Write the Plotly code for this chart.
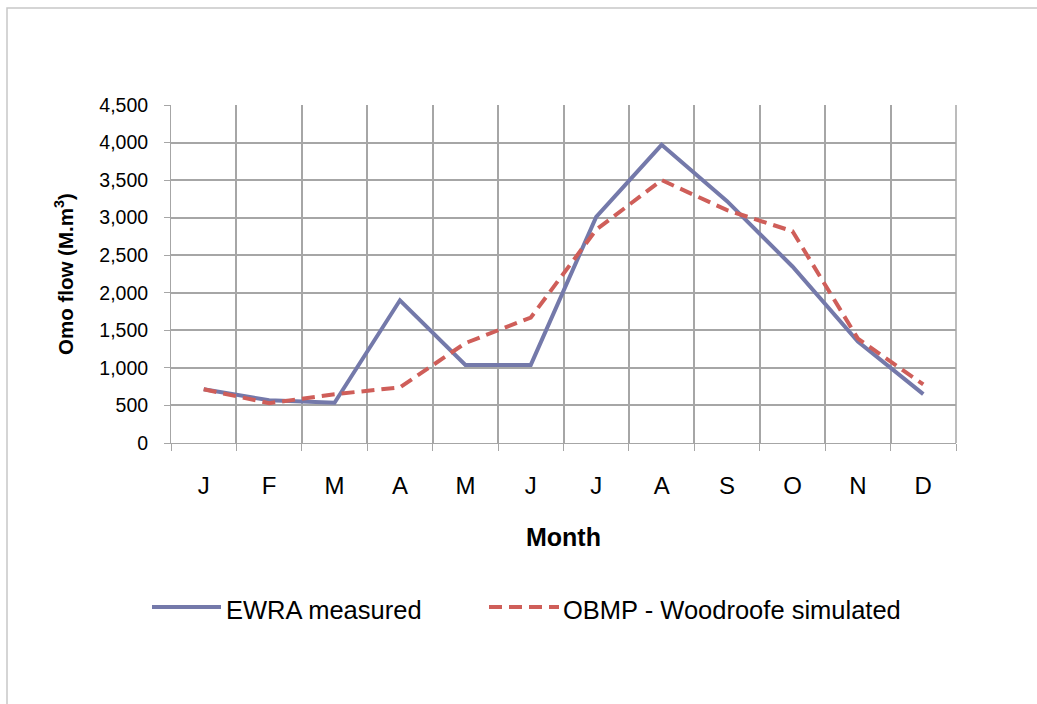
import plotly.graph_objects as go

# Monthly Omo flow (M.m³)
months = ["J", "F", "M", "A", "M", "J", "J", "A", "S", "O", "N", "D"]
month_pos = list(range(1, 13))
ewra_measured = [715, 570, 535, 1900, 1040, 1040, 3010, 3970, 3220, 2350, 1350, 650]
obmp_simulated = [715, 530, 650, 740, 1330, 1670, 2840, 3500, 3100, 2820, 1390, 780]

y_ticks = [0, 500, 1000, 1500, 2000, 2500, 3000, 3500, 4000, 4500]

FONT = "Liberation Sans, Arial, sans-serif"
BLUE = "#7479AA"
RED = "#CF5E59"
GRID = "#A6A6A6"

W, H = 1037, 704
L, R, T, B = 171, 81, 105, 261
PW, PH = W - L - R, H - T - B


def px_x(px):
    return (px - L) / PW


def px_y(py):
    return (H - B - py) / PH


fig = go.Figure()

fig.add_trace(go.Scatter(
    x=month_pos, y=ewra_measured, mode="lines", name="EWRA measured",
    line=dict(color=BLUE, width=4), showlegend=False,
))
fig.add_trace(go.Scatter(
    x=month_pos, y=obmp_simulated, mode="lines", name="OBMP - Woodroofe simulated",
    line=dict(color=RED, width=4, dash="13px,7px"), showlegend=False,
))

fig.update_xaxes(
    range=[0.5, 12.5],
    tickmode="array", tickvals=month_pos, ticktext=months,
    ticks="", showgrid=False,
    tickfont=dict(family=FONT, size=24, color="#000"),
    ticklabelstandoff=21,
    showline=True, linecolor=GRID, linewidth=1,
    minor=dict(tick0=0.5, dtick=1, showgrid=True, gridcolor=GRID, gridwidth=1.5,
               ticks="outside", ticklen=7, tickcolor=GRID, tickwidth=1),
    mirror=False, zeroline=False,
)
fig.update_yaxes(
    range=[0, 4500], tickmode="array", tickvals=y_ticks,
    tickformat=",", ticks="outside", ticklen=6, tickcolor=GRID,
    tickfont=dict(family=FONT, size=19.5, color="#000"),
    ticklabelstandoff=12,
    showgrid=True, gridcolor=GRID, gridwidth=1.5,
    showline=True, linecolor=GRID, linewidth=1, zeroline=False,
)

annotations = [
    dict(text="<b>Omo flow (M.m<sup>3</sup>)</b>", x=px_x(64), y=0.5, xref="paper", yref="paper",
         textangle=-90, showarrow=False, font=dict(family=FONT, size=20.5, color="#000"),
         xanchor="center", yanchor="middle"),
    dict(text="<b>Month</b>", x=0.5, y=px_y(537), xref="paper", yref="paper",
         showarrow=False, font=dict(family=FONT, size=25, color="#000"),
         xanchor="center", yanchor="middle"),
    dict(text="EWRA measured", x=px_x(224), y=px_y(610), xref="paper", yref="paper",
         showarrow=False, font=dict(family=FONT, size=25.5, color="#000"),
         xanchor="left", yanchor="middle"),
    dict(text="OBMP - Woodroofe simulated", x=px_x(561), y=px_y(610), xref="paper", yref="paper",
         showarrow=False, font=dict(family=FONT, size=25.5, color="#000"),
         xanchor="left", yanchor="middle"),
]

shapes = [
    # chart frame
    dict(type="rect", xref="paper", yref="paper", x0=px_x(7), y0=px_y(H + 50),
         x1=px_x(W + 50), y1=px_y(8), line=dict(color="#C8C8C8", width=1.5),
         fillcolor="rgba(0,0,0,0)", layer="below"),
    # plot border (right edge)
    dict(type="line", xref="paper", yref="paper", x0=1, x1=1, y0=0, y1=1,
         line=dict(color=GRID, width=1.5)),
    # legend keys
    dict(type="line", xref="paper", yref="paper", x0=px_x(152), x1=px_x(221),
         y0=px_y(607), y1=px_y(607), line=dict(color=BLUE, width=4)),
    dict(type="line", xref="paper", yref="paper", x0=px_x(489), x1=px_x(559),
         y0=px_y(607), y1=px_y(607), line=dict(color=RED, width=4, dash="13px,7px")),
]

fig.update_layout(
    width=W, height=H, autosize=False,
    margin=dict(l=L, r=R, t=T, b=B, pad=0),
    paper_bgcolor="white", plot_bgcolor="white",
    annotations=annotations, shapes=shapes,
    font=dict(family=FONT),
)

fig.write_html("out.html")
